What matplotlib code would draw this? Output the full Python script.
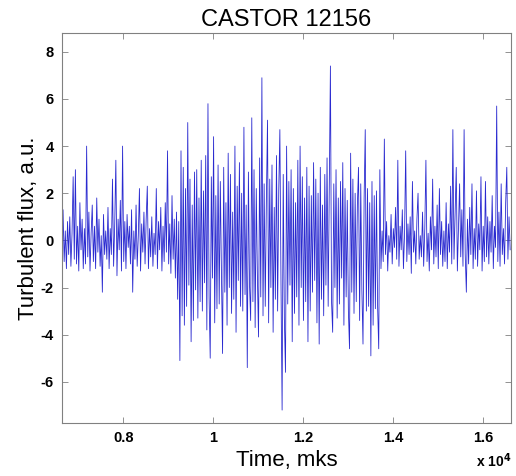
import numpy as np
import matplotlib
matplotlib.use("Agg")
import matplotlib.pyplot as plt

plt.rcParams["font.family"] = ["Liberation Sans", "DejaVu Sans"]
plt.rcParams["axes.unicode_minus"] = False

# sampling of the probe trace (mks)
T_START = 6630
DT = 25

# turbulent flux, one row per 500 mks
flux = [
    -1.5, 1.3, -0.9, 0.4, -1.2, 0.8, -0.6, 1.0, -1.1, 0.3, 2.7, -0.8, 3.0, -1.0, 0.6, -1.3, 1.6, -0.4, 0.9, -1.2,
    0.5, -1.0, 4.0, -0.7, 1.2, -1.3, 0.3, 1.5, -0.9, 0.6, -1.2, 1.8, -0.5, 0.9, -1.1, 0.2, -2.2, 1.1, -0.6, 0.4,
    -0.8, 1.4, -1.2, 0.5, -0.6, 2.6, -1.1, 0.7, 3.4, -1.5, 0.9, -0.4, 1.7, -1.3, 4.0, -0.9, 0.8, -1.2, 1.1, -0.3,
    0.6, -1.0, 1.3, -2.2, 0.4, -0.8, 1.5, -1.1, 0.2, 2.2, -1.3, 0.7, -0.5, 1.2, -1.0, 0.9, 2.3, -1.2, 0.5, -0.7,
    1.0, -1.1, 0.3, -0.6, 2.2, -1.2, 0.8, -0.4, 1.4, -1.3, 0.6, -0.9, 1.6, -0.5, 3.8, -1.0, 0.7, -1.4, 1.9, -0.8,
    0.9, -1.6, 1.2, -2.5, 0.8, -5.1, 3.8, -3.2, 3.1, -3.6, 2.2, -2.8, 5.0, -1.9, 2.6, -4.3, 1.5, -3.4, 2.9, -2.1,
    3.0, -3.3, 1.8, -2.6, 3.4, -3.0, 2.1, -1.8, 3.6, -3.8, 5.8, -2.4, -5.0, 2.7, -1.6, 4.4, -3.5, 1.9, -2.9, 3.2,
    -2.7, 2.5, -1.4, -4.8, 3.1, -2.2, 1.6, -3.6, 3.7, -2.0, 2.8, -3.1, 1.2, -2.5, 4.0, -3.9, 2.3, -1.7, 3.3, -2.8,
    2.0, -3.0, 4.8, -2.3, 1.5, -5.4, 2.9, -1.9, -3.4, 5.2, -2.6, 3.0, -3.7, 2.2, -1.5, -4.1, 3.5, -2.4, 6.9, -3.2,
    2.4, -2.8, 1.7, 5.1, -3.5, 2.6, -2.0, 3.2, -3.9, 1.4, -2.5, 3.6, -3.0, 2.1, 4.7, -1.8, -7.2, 2.8, -3.3, -5.6,
    4.0, -2.7, 2.5, -1.9, 3.0, -4.3, 2.2, -3.1, 1.6, -2.4, 3.4, -3.6, 4.0, -2.0, 2.7, -3.4, 1.8, -2.6, 3.1, -4.3,
    2.3, -3.0, 1.9, -2.2, 3.3, -1.7, 2.6, -3.5, 2.0, -4.4, 3.1, -2.5, 1.5, -3.2, 2.8, -1.9, 3.5, -2.8, 2.1, 7.4,
    -2.6, -3.9, 2.4, -2.0, 3.0, -3.3, 1.8, -2.7, 2.5, -1.6, 3.3, -3.6, 2.2, -2.4, 1.7, -3.0, -4.6, 3.7, -2.2, 2.6,
    -3.1, 2.0, -2.6, 1.5, 3.1, -3.4, 2.4, -2.1, -4.4, 1.8, 4.7, -3.0, 2.2, -2.8, 1.6, -4.9, 2.5, -3.6, 1.9, -2.9,
    2.1, -2.8, -4.6, 3.0, -1.2, 0.4, -0.9, 4.3, -0.6, 0.8, -1.3, 0.2, -0.5, 1.1, -1.0, 0.5, -0.3, 1.4, -0.8, 3.4,
    -1.1, 0.6, -0.4, 1.3, -1.2, 0.3, 3.8, -0.9, 0.7, -0.6, 1.0, -1.4, 2.5, -0.5, 0.4, -1.0, 0.9, 2.0, -0.8, 0.2,
    -0.7, 1.2, -1.1, 0.5, 3.4, -0.9, 0.3, -1.3, 1.0, -0.4, 2.6, -1.0, 0.6, -0.7, 1.5, -1.2, 2.2, -0.6, 0.8, -1.1,
    0.4, -0.9, 1.6, -1.2, 0.7, -0.5, 2.3, -1.0, 4.7, -0.8, 1.1, 3.1, -1.3, 0.6, 2.4, -0.7, 1.3, -1.1, 4.7, -0.6,
    -2.2, 0.9, -1.0, 1.4, -0.6, 2.4, -1.2, 0.5, -0.8, 2.1, -1.1, 0.7, -0.4, 2.7, -1.3, 0.6, -0.9, 2.5, -0.7, 1.0,
    -1.0, 0.8, -0.5, 1.9, -1.2, 0.6, -0.3, 5.7, -0.9, 1.2, -1.1, 2.4, -0.6, 0.5, -1.0, 1.6, 3.1, -0.8, 1.0, -0.4,
]
time = T_START + DT * np.arange(len(flux))

xticks = [8000, 10000, 12000, 14000, 16000]
xtick_labels = ["0.8", "1", "1.2", "1.4", "1.6"]
yticks = [-6, -4, -2, 0, 2, 4, 6, 8]

fig = plt.figure(figsize=(5.16, 4.76), dpi=100)
ax = fig.add_axes([0.120, 0.1113, 0.870, 0.8194])
ax.plot(time, flux, color="#2a2ad0", lw=0.6)

ax.set_xlim(6630, 16620)
ax.set_ylim(-7.75, 8.8)
ax.set_xticks(xticks)
ax.set_xticklabels(xtick_labels)
ax.set_yticks(yticks)
ax.tick_params(direction="in", top=True, right=True, length=4, width=0.6,
               color="#808080", labelsize=10.5, pad=6)
for lab in ax.get_xticklabels() + ax.get_yticklabels():
    lab.set_fontweight("bold")
for sp in ax.spines.values():
    sp.set_color("#808080")
    sp.set_linewidth(0.8)

ax.set_title("CASTOR 12156", fontsize=17, pad=5)
ax.set_xlabel("Time, mks", fontsize=16, labelpad=3)
ax.set_ylabel("Turbulent flux, a.u.", fontsize=16, labelpad=1)
fig.text(0.922, 0.018, r"x 10$^{\mathbf{4}}$", fontsize=10, fontweight="bold", ha="left")

fig.savefig("out.png", dpi=100)
